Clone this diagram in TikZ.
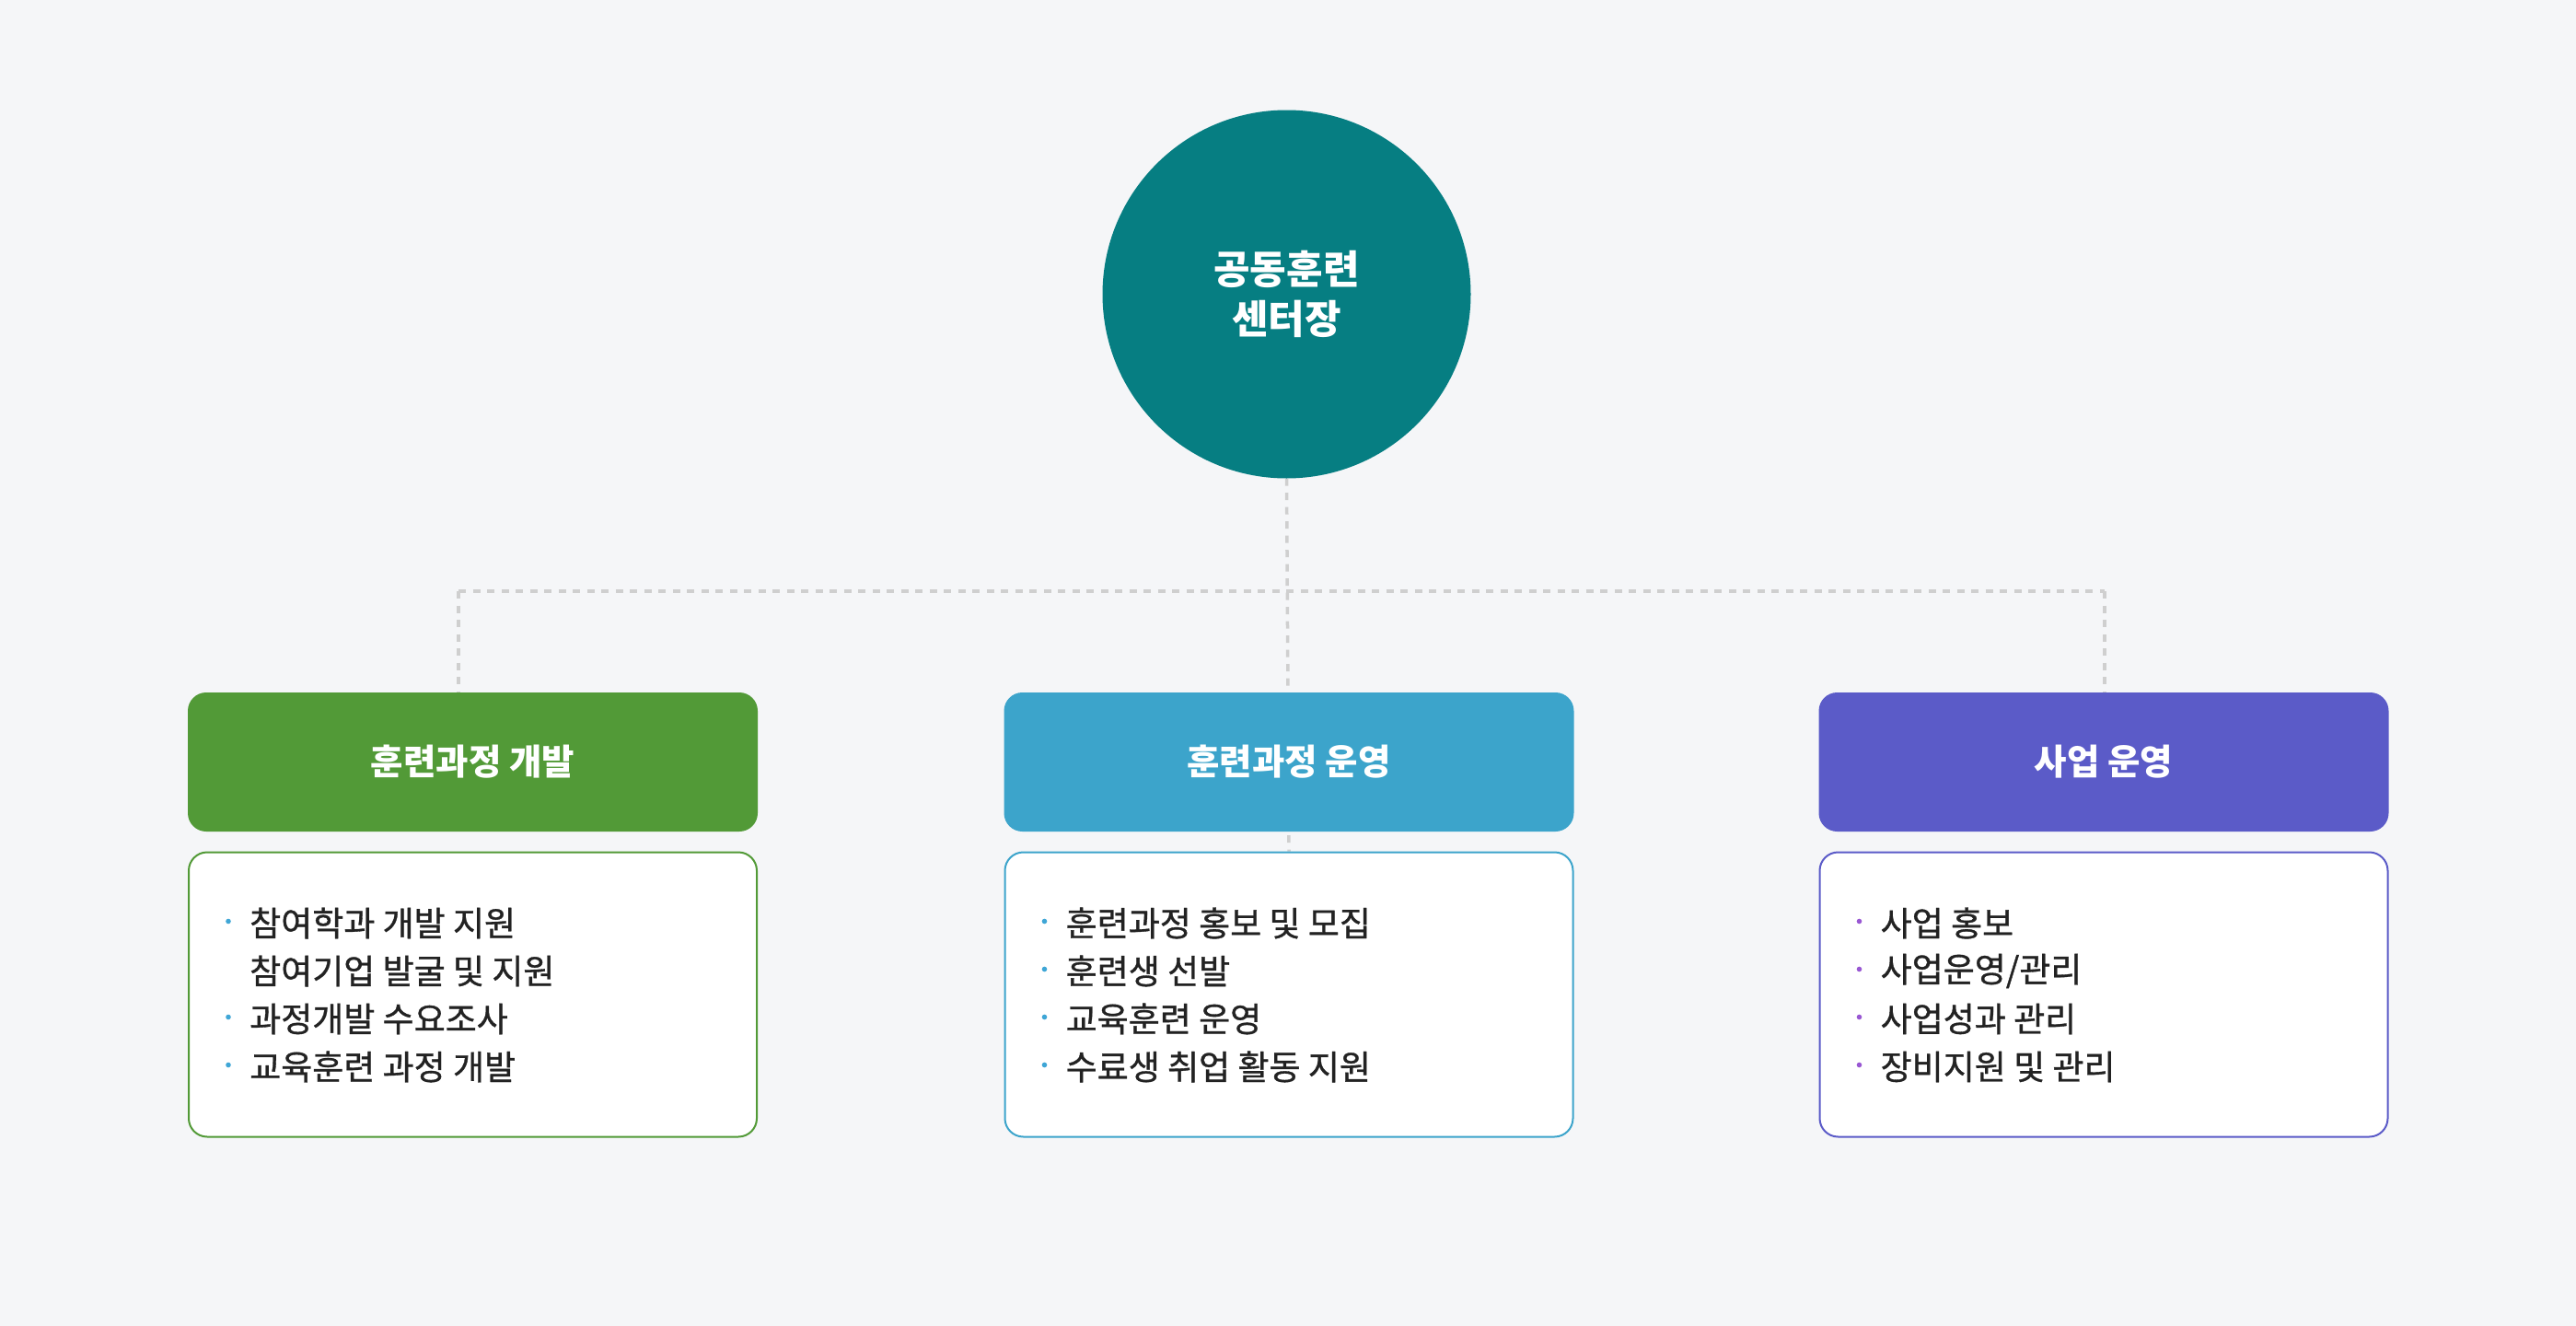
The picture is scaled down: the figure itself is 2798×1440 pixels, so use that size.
\documentclass[tikz,border=0pt]{standalone}
\usepackage{fontspec}
\setmainfont{Noto Sans CJK KR}
\newfontfamily\itemfont{Noto Sans CJK KR}[FakeBold=0.9]
\usetikzlibrary{calc,backgrounds}

\definecolor{bgcol}{HTML}{F5F6F8}
\definecolor{chiefteal}{HTML}{067E82}
\definecolor{devgreen}{HTML}{529A37}
\definecolor{opsblue}{HTML}{3CA4CB}
\definecolor{bizpurple}{HTML}{5B5BC8}
\definecolor{linkgray}{HTML}{CFCFCF}
\definecolor{inktext}{HTML}{222222}
\definecolor{dotblue}{HTML}{3FA6D6}
\definecolor{dotpurple}{HTML}{9958D3}

\begin{document}
\begin{tikzpicture}[x=1pt,y=-1pt,
    chief/.style={circle,fill=chiefteal,minimum size=400pt,inner sep=0pt,text=white,
      font=\bfseries\fontsize{43}{54}\selectfont,align=center},
    headbox/.style={rounded corners=20pt,minimum width=619pt,minimum height=151pt,
      inner sep=0pt,text=white,font=\bfseries\fontsize{38.5}{46}\selectfont},
    bodybox/.style={draw,line width=2pt,fill=white,rounded corners=20pt,
      minimum width=617pt,minimum height=309pt,inner sep=0pt},
    item/.style={anchor=west,inner sep=0pt,text=inktext,font=\itemfont\fontsize{37}{44}\selectfont},
    link/.style={draw=linkgray,line width=3.5pt,dash pattern=on 8pt off 7.5pt}]

      \useasboundingbox (0,0) rectangle (2798,1440);
      \begin{pgfonlayer}{background}
        \fill[bgcol] (0,0) rectangle (2798,1440);
      \end{pgfonlayer}

      %%% centre %%%
      \node (chief) at (1397.5,319.5) [chief] {공동훈련\\센터장};

      %%% headers %%%
      \node (devhead) at (513.5,827.5) [headbox,fill=devgreen] {훈련과정 개발};
      \node (opshead) at (1400,827.5) [headbox,fill=opsblue] {훈련과정 운영};
      \node (bizhead) at (2285,827.5) [headbox,fill=bizpurple] {사업 운영};

      %%% bodies %%%
      \node (devbody) at (513.5,1080) [bodybox,draw=devgreen] {};
      \node (opsbody) at (1400,1080) [bodybox,draw=opsblue] {};
      \node (bizbody) at (2285,1080) [bodybox,draw=bizpurple] {};

      % items
      \foreach \b/\txt [count=\i] in {1/참여학과 개발 지원, 0/참여기업 발굴 및 지원,
          1/과정개발 수요조사, 1/교육훈련 과정 개발} {
        \node (dev\i) at ($(devbody.north west)+(67,{78+52*(\i-1)})$) [item] {\txt};
        \ifnum\b=1 \fill[dotblue] ($(devbody.north west)+(44,{76+52*(\i-1)})$) circle (2.8pt); \fi
      }
      \foreach \txt [count=\i] in {훈련과정 홍보 및 모집, 훈련생 선발, 교육훈련 운영,
          수료생 취업 활동 지원} {
        \node (ops\i) at ($(opsbody.north west)+(67,{78+52*(\i-1)})$) [item] {\txt};
        \fill[dotblue] ($(opsbody.north west)+(44,{76+52*(\i-1)})$) circle (2.8pt);
      }
      \foreach \txt [count=\i] in {사업 홍보, 사업운영/관리, 사업성과 관리,
          장비지원 및 관리} {
        \node (biz\i) at ($(bizbody.north west)+(67,{78+52*(\i-1)})$) [item] {\txt};
        \fill[dotpurple] ($(bizbody.north west)+(44,{76+52*(\i-1)})$) circle (2.8pt);
      }

      %%% links %%%
      \coordinate (devtap) at (498,642);
      \coordinate (biztap) at (2286,642);
      \begin{pgfonlayer}{background}
        \draw[link] (chief.south) -- (opsbody.north);
        \draw[link] (devtap) -- (biztap);
        \draw[link] (devtap) -- (devtap |- devhead.north);
        \draw[link] (biztap) -- (biztap |- bizhead.north);
      \end{pgfonlayer}

\end{tikzpicture}
\end{document}
